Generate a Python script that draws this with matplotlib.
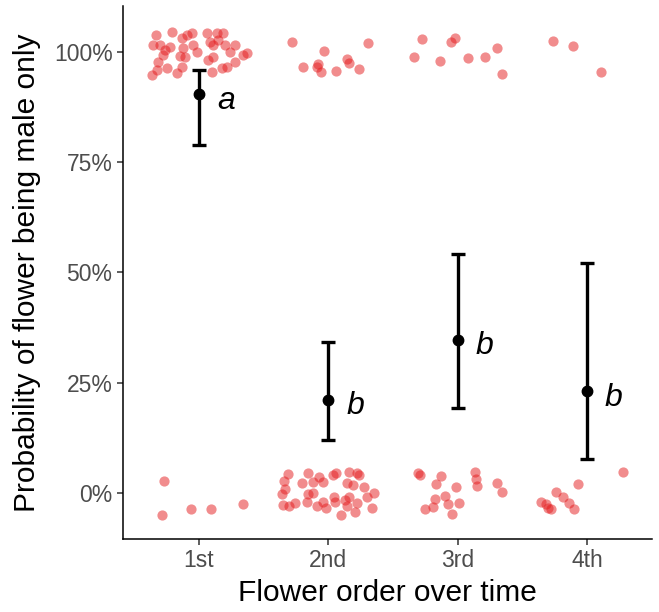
import matplotlib
matplotlib.use('Agg')
import matplotlib.pyplot as plt
from matplotlib.ticker import FixedLocator

plt.rcParams['font.family'] = ['Liberation Sans', 'DejaVu Sans']

# flower order categories
orders = ['1st', '2nd', '3rd', '4th']

top_x = [0.667, 0.791, 0.644, 0.698, 0.737, 0.722, 0.776, 0.683, 0.675, 0.637,
         0.753, 0.830, 0.869, 0.892, 0.876, 0.869, 0.907, 0.946, 0.954, 0.985,
         1.062, 1.139, 1.186, 1.085, 1.108, 1.147, 1.201, 1.278, 1.240, 1.340,
         1.371, 1.278, 1.217, 1.178, 1.101, 1.070, 1.108, 0.853,
         1.719, 1.804, 1.967, 1.920, 1.913, 1.944, 2.060, 2.145, 2.160, 2.237, 2.307,
         2.663, 2.725, 2.864, 2.949, 2.980, 3.081, 3.212, 3.305, 3.343,
         3.738, 3.893, 4.109]
top_y = [1.039, 1.045, 1.016, 1.016, 1.005, 0.993, 1.011, 0.977, 0.959, 0.948,
         0.964, 0.952, 0.966, 0.989, 1.009, 1.032, 1.039, 1.043, 1.016, 1.000,
         1.043, 1.043, 1.043, 1.023, 1.016, 1.027, 1.016, 1.016, 1.000, 0.993,
         0.998, 0.977, 0.966, 0.964, 0.955, 0.982, 0.989, 0.991,
         1.023, 0.966, 1.002, 0.973, 0.966, 0.955, 0.957, 0.984, 0.975, 0.961, 1.020,
         0.989, 1.029, 0.980, 1.023, 1.032, 0.986, 0.989, 1.009, 0.950,
         1.025, 1.014, 0.955]

bot_x = [0.729, 0.714, 0.938, 1.093, 1.340,
         1.688, 1.657, 1.665, 1.642, 1.650, 1.696, 1.742, 1.797, 1.843, 1.881,
         1.843, 1.881, 1.835, 1.928, 1.959, 1.913, 1.959, 1.982, 2.036, 2.060,
         2.044, 2.052, 2.098, 2.129, 2.145, 2.160, 2.145, 2.222, 2.237, 2.191,
         2.160, 2.222, 2.206, 2.276, 2.299, 2.353, 2.338,
         2.694, 2.709, 2.872, 2.833, 2.988, 2.903, 2.825, 2.748, 2.810, 2.926,
         3.012, 2.957, 3.135, 3.142, 3.150, 3.305, 3.343,
         3.645, 3.684, 3.699, 3.722, 3.761, 3.815, 3.862, 3.900, 3.931, 4.279]
bot_y = [0.027, -0.050, -0.036, -0.036, -0.025,
         0.043, 0.027, 0.009, -0.002, -0.027, -0.029, -0.023, 0.023, 0.045, 0.025,
         -0.002, 0.000, -0.020, 0.036, 0.025, -0.029, -0.020, -0.034, 0.041, 0.045,
         -0.009, -0.020, -0.050, -0.016, -0.029, 0.048, 0.023, 0.045, 0.041, 0.018,
         -0.009, -0.023, -0.043, 0.014, -0.009, 0.000, -0.034,
         0.045, 0.041, 0.039, 0.020, 0.014, -0.007, -0.014, -0.036, -0.032, -0.025,
         -0.023, -0.048, 0.048, 0.032, 0.016, 0.023, 0.002,
         -0.020, -0.025, -0.034, -0.036, 0.002, -0.009, -0.023, -0.036, 0.020, 0.048]

# model estimates with confidence limits
prob = [0.905, 0.211, 0.347, 0.231]
lower = [0.789, 0.120, 0.193, 0.077]
upper = [0.959, 0.342, 0.542, 0.522]
letters = ['a', 'b', 'b', 'b']

pos = [1, 2, 3, 4]

fig = plt.figure(figsize=(6.59, 6.12), dpi=100)
ax = fig.add_axes([0.1866, 0.1193, 0.8027, 0.8709])

ax.scatter(top_x + bot_x, top_y + bot_y, s=54, color='#E41A1C', alpha=0.5,
           linewidths=0, zorder=2)

yerr = [[p - l for p, l in zip(prob, lower)], [u - p for p, u in zip(prob, upper)]]
ax.errorbar(pos, prob, yerr=yerr, fmt='o', color='black', markersize=7.5,
            elinewidth=2.4, capsize=5, capthick=2.4, zorder=3)
for p, v, t in zip(pos, prob, letters):
    ax.text(p + 0.14, v - 0.015, t, fontsize=23, fontstyle='italic', ha='left',
            va='center', zorder=4)

ax.set_xlim(0.412, 4.503)
ax.set_ylim(-0.105, 1.105)
ax.set_xticks(pos)
ax.set_xticklabels(orders)
ax.yaxis.set_major_locator(FixedLocator([0, 0.25, 0.5, 0.75, 1.0]))
ax.set_yticklabels(['0%', '25%', '50%', '75%', '100%'])
ax.tick_params(labelsize=16.5, labelcolor='#4D4D4D', color='#333333',
               length=4, width=1.1)
ax.spines['top'].set_visible(False)
ax.spines['right'].set_visible(False)
for s in ['left', 'bottom']:
    ax.spines[s].set_linewidth(1.1)

ax.set_xlabel('Flower order over time', fontsize=21.5, labelpad=5)
ax.set_ylabel('Probability of flower being male only', fontsize=21.5, labelpad=9)

fig.savefig('out.png', dpi=100)
